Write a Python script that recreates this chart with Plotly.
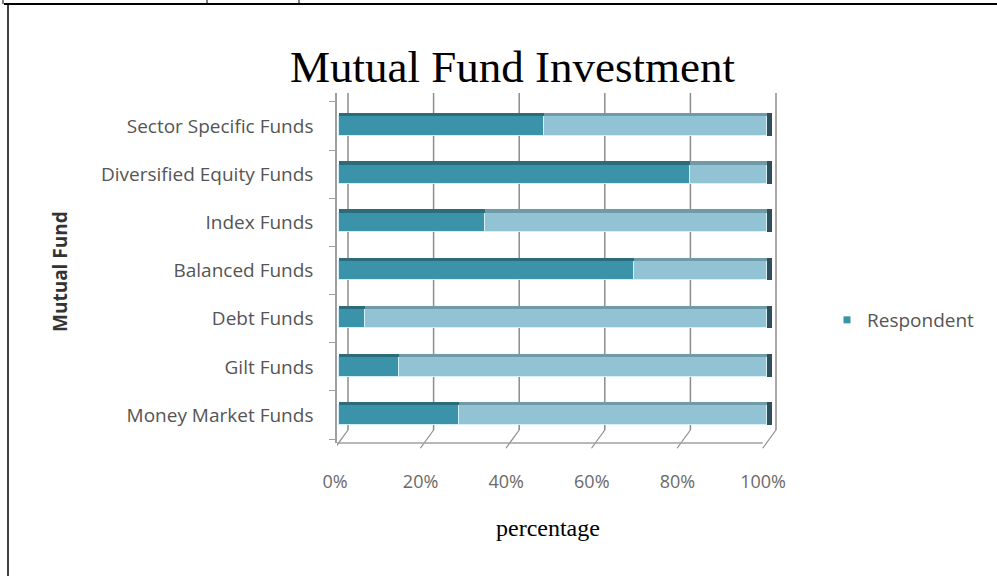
import plotly.graph_objects as go

# Fund categories, listed bottom to top as drawn on the category axis
categories = [
    "Money Market Funds",
    "Gilt Funds",
    "Debt Funds",
    "Balanced Funds",
    "Index Funds",
    "Diversified Equity Funds",
    "Sector Specific Funds",
]
respondent = [28, 14, 6, 69, 34, 82, 48]      # share of respondents (%)
remaining = [72, 86, 94, 31, 66, 18, 52]      # rest of each 100% bar (%)
x_ticks = [0, 20, 40, 60, 80, 100]

W, H = 997, 576
ML, MR, MT, MB = 337, 217, 93, 133
PW, PH = W - ML - MR, H - MT - MB

DARK = "#3a93a8"
DARK_TOP = "#2c6b7a"
LIGHT = "#92c3d4"
LIGHT_TOP = "#6f9aa8"
CAP = "#2e4f59"
EDGE = "rgba(215,243,250,0.9)"
WALL = "#8c8c8c"

FRONT_W, TOP_W, CAP_LEN = 0.40, 0.07, 1.2
totals = [a + b for a, b in zip(respondent, remaining)]


def px_x(p):
    return (p - ML) / PW


def px_y(p):
    return (H - MB - p) / PH


fig = go.Figure()

# front faces of the stacked bars
fig.add_trace(go.Bar(
    y=categories, x=respondent, base=[0] * len(categories), orientation="h",
    width=FRONT_W, offset=-FRONT_W / 2, name="Respondent",
    marker=dict(color=DARK, line=dict(color=EDGE, width=1)), showlegend=False,
))
fig.add_trace(go.Bar(
    y=categories, x=remaining, base=respondent, orientation="h",
    width=FRONT_W, offset=-FRONT_W / 2, name="Other",
    marker=dict(color=LIGHT, line=dict(color=EDGE, width=1)), showlegend=False,
))
# top faces (depth strip above each bar)
fig.add_trace(go.Bar(
    y=categories, x=respondent, base=[0] * len(categories), orientation="h",
    width=TOP_W, offset=FRONT_W / 2, marker=dict(color=DARK_TOP, line=dict(width=0)),
    showlegend=False, hoverinfo="skip",
))
fig.add_trace(go.Bar(
    y=categories, x=remaining, base=respondent, orientation="h",
    width=TOP_W, offset=FRONT_W / 2, marker=dict(color=LIGHT_TOP, line=dict(width=0)),
    showlegend=False, hoverinfo="skip",
))
# side face at the end of each bar
fig.add_trace(go.Bar(
    y=categories, x=[CAP_LEN] * len(categories), base=totals, orientation="h",
    width=FRONT_W + TOP_W, offset=-FRONT_W / 2, marker=dict(color=CAP, line=dict(width=0)),
    showlegend=False, hoverinfo="skip",
))
# legend entry
fig.add_trace(go.Scatter(
    x=[None], y=[None], mode="markers", name="Respondent",
    marker=dict(symbol="square", size=7, color=DARK),
))

px_per_unit = 428 / 100.0
r0 = (ML - 339) / px_per_unit
r1 = (ML + PW - 339) / px_per_unit
depth = 9 / px_per_unit
floor_h = 13 / PH

shapes = []
# back-wall gridlines, shifted for depth
for v in x_ticks:
    shapes.append(dict(type="line", xref="x", yref="paper", layer="below",
                       x0=v + depth, x1=v + depth, y0=floor_h, y1=1,
                       line=dict(color=WALL, width=1.5)))
# slanted floor ticks
for v in x_ticks:
    shapes.append(dict(type="line", xref="x", yref="paper",
                       x0=v - 1.0, y0=-0.015, x1=v + depth, y1=floor_h,
                       line=dict(color=WALL, width=1.2)))
# front edge of the floor
shapes.append(dict(type="line", xref="x", yref="paper", x0=r0, x1=100 - 1.0,
                   y0=0, y1=0, line=dict(color="#a0a0a0", width=1.5)))
# page frame lines
shapes += [
    dict(type="line", xref="paper", yref="paper", x0=px_x(4), x1=px_x(997),
         y0=px_y(4), y1=px_y(4), line=dict(color="black", width=2)),
    dict(type="line", xref="paper", yref="paper", x0=px_x(8), x1=px_x(8),
         y0=px_y(4), y1=px_y(576), line=dict(color="black", width=1.5)),
    dict(type="line", xref="paper", yref="paper", x0=px_x(3), x1=px_x(3),
         y0=px_y(0), y1=px_y(4), line=dict(color="black", width=1)),
    dict(type="line", xref="paper", yref="paper", x0=px_x(207), x1=px_x(207),
         y0=px_y(0), y1=px_y(4), line=dict(color="black", width=1)),
    dict(type="line", xref="paper", yref="paper", x0=px_x(299), x1=px_x(299),
         y0=px_y(0), y1=px_y(4), line=dict(color="black", width=1)),
]

fig.update_layout(
    width=W, height=H, autosize=False,
    margin=dict(l=ML, r=MR, t=MT, b=MB),
    paper_bgcolor="white", plot_bgcolor="white",
    barmode="overlay", bargap=0,
    font=dict(family="Open Sans", color="#595959", size=18),
    xaxis=dict(
        range=[r0, r1], tickvals=x_ticks, ticktext=[f"{v}%" for v in x_ticks],
        showgrid=False, zeroline=False, showline=False,
        ticks="", ticklabelstandoff=26, ticklabelshift=-4,
        tickfont=dict(family="Open Sans", size=18, color="#6a6a6a"),
    ),
    yaxis=dict(
        range=[-0.58, 6.685], type="category", categoryorder="array", categoryarray=categories,
        showgrid=False, zeroline=False, showline=True, linecolor="#a0a0a0", linewidth=1.5,
        ticks="outside", tickson="boundaries", ticklen=6, tickcolor="#a0a0a0",
        ticklabelstandoff=18,
        tickfont=dict(family="Open Sans", size=19, color="#555555"),
    ),
    legend=dict(
        x=px_x(827), y=px_y(320), xanchor="left", yanchor="middle",
        font=dict(family="Open Sans", size=19, color="#555555"),
        bgcolor="rgba(0,0,0,0)", borderwidth=0,
    ),
    shapes=shapes,
    annotations=[
        dict(text="Mutual Fund Investment", x=px_x(512), y=px_y(67), xref="paper", yref="paper",
             showarrow=False, xanchor="center", yanchor="middle",
             font=dict(family="Liberation Serif", size=45, color="black")),
        dict(text="percentage", x=px_x(548), y=px_y(528), xref="paper", yref="paper",
             showarrow=False, xanchor="center", yanchor="middle",
             font=dict(family="Liberation Serif", size=24, color="black")),
        dict(text="<b>Mutual Fund</b>", x=px_x(60), y=px_y(272), xref="paper", yref="paper",
             showarrow=False, xanchor="center", yanchor="middle", textangle=-90,
             font=dict(family="Open Sans", size=19, color="#333333")),
    ],
)

fig.write_html("out.html")
